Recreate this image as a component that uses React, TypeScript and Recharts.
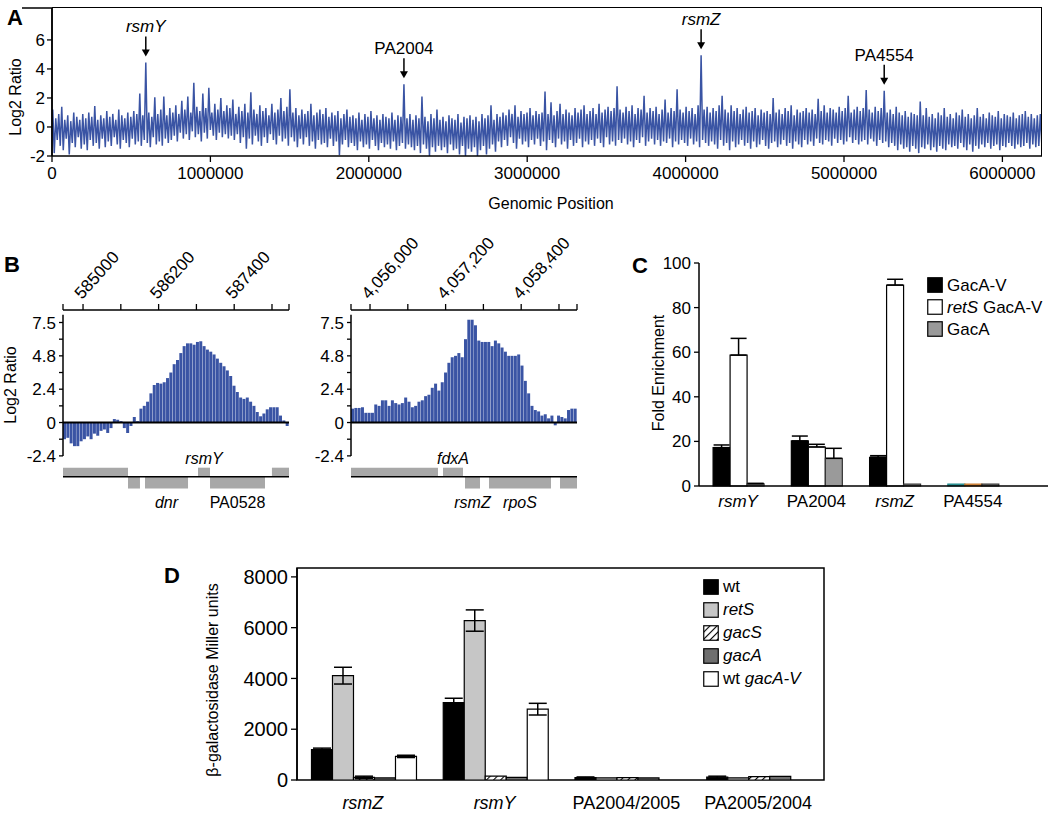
import React from "react";
import {
  Line,
  BarChart,
  Bar,
  ComposedChart,
  XAxis,
  YAxis,
  ReferenceArea,
  ReferenceLine,
  ReferenceDot,
  ErrorBar,
  Legend,
  Cell,
} from "recharts";

const FONT = "'Liberation Sans', Arial, Helvetica, sans-serif";
const BLUE = "#3a54a4";
const AXIS = { stroke: "#000", strokeWidth: 1.5 };
const TICK_LINE = { stroke: "#000", strokeWidth: 1.3 };

// ---------- A: genome-wide log2 ratios, upper / lower value per ~19 kb window
const genomeStep = 18950;
const genomeHigh = [
  1.2, 0.6, 0.9, 1.4, 0.5, 0.8, 0.4, 1.0, 0.7, 0.5,
  0.9, 0.6, 1.0, 0.7, 1.45, 0.5, 0.8, 0.6, 1.1, 0.7,
  0.9, 0.5, 1.2, 0.8, 0.6, 1.0, 0.7, 1.1, 0.9, 2.3,
  0.8, 4.45, 1.0, 0.7, 2.05, 0.9, 1.2, 2.1, 0.8, 1.3,
  1.0, 1.5, 0.9, 1.8, 1.2, 2.1, 1.0, 3.05, 1.4, 1.1,
  2.3, 1.3, 2.7, 1.0, 1.6, 1.2, 2.0, 1.1, 1.5, 1.3,
  1.9, 0.9, 1.4, 1.1, 1.6, 1.0, 2.4, 1.2, 0.9, 1.5,
  1.1, 1.3, 0.8, 1.6, 1.0, 1.2, 2.0, 1.1, 1.4, 2.6,
  1.0, 1.3, 0.8, 1.2, 0.9, 1.1, 1.6, 0.8, 1.0, 1.2,
  0.9, 1.3, 0.7, 1.0, 0.8, 1.1, 0.6, 0.9, 1.2, 0.7,
  0.8, 0.6, 1.0, 0.5, 0.9, 0.7, 1.1, 0.6, 0.8, 0.5,
  0.9, 0.7, 0.6, 1.0, 0.5, 0.8, 0.7, 2.95, 0.6, 0.9,
  0.5, 0.8, 0.6, 2.1, 0.7, 0.4, 0.9, 0.6, 1.2, 0.5,
  0.7, 0.4, 0.8, 0.6, 0.5, 0.9, 0.3, 0.7, 0.6, 0.8,
  0.5, 0.7, 0.4, 0.9, 0.6, 0.8, 1.5, 0.5, 0.9, 0.7,
  1.0, 0.8, 1.2, 0.9, 1.5, 0.7, 1.1, 0.9, 1.0, 1.3,
  0.8, 1.1, 0.9, 1.0, 2.45, 0.9, 1.7, 0.8, 1.1, 1.6,
  0.9, 1.2, 1.0, 0.8, 1.3, 1.0, 1.2, 1.5, 0.9, 1.1,
  1.3, 0.9, 1.6, 1.0, 1.2, 1.4, 1.1, 1.3, 2.8, 1.2,
  1.0, 1.4, 1.1, 1.5, 0.9, 1.3, 1.2, 2.15, 1.0, 1.3,
  1.1, 1.4, 0.9, 1.2, 1.9, 1.0, 1.3, 1.1, 2.6, 1.2,
  1.0, 1.4, 1.1, 1.3, 0.9, 1.5, 4.95, 1.2, 1.4, 1.0,
  1.3, 1.1, 1.5, 2.15, 1.2, 1.0, 1.5, 1.1, 1.3, 0.9,
  1.2, 1.4, 1.0, 1.1, 1.3, 0.8, 1.2, 1.0, 1.1, 0.9,
  2.0, 1.0, 1.2, 0.9, 1.3, 1.1, 1.5, 0.8, 1.2, 1.0,
  1.1, 1.3, 1.0, 1.2, 0.9, 1.95, 1.1, 1.5, 1.0, 1.3,
  1.2, 1.0, 1.4, 1.1, 1.3, 2.15, 1.0, 1.2, 1.4, 1.1,
  1.3, 2.55, 1.2, 1.0, 1.4, 1.1, 1.3, 2.5, 1.0, 1.2,
  0.9, 1.4, 1.0, 0.8, 1.1, 0.7, 1.0, 0.9, 0.8, 1.75,
  0.8, 1.3, 0.7, 0.9, 0.6, 1.0, 0.8, 1.3, 0.7, 0.9,
  0.6, 1.0, 0.8, 1.2, 0.7, 0.9, 0.6, 0.8, 1.3, 0.7,
  0.9, 0.6, 1.0, 0.8, 0.7, 1.1, 0.6, 0.9, 0.8, 0.7,
  1.0, 0.6, 0.8, 0.9, 1.1, 0.7, 0.9, 0.6, 0.8, 0.9,
];
const genomeLow = [
  -1.8, -0.9, -1.3, -1.6, -0.8, -1.9, -1.1, -1.4, -0.7, -1.5,
  -1.2, -1.6, -0.9, -1.3, -1.1, -1.5, -0.8, -1.4, -1.0, -1.3,
  -0.7, -1.2, -1.5, -0.9, -1.1, -1.4, -0.8, -1.2, -1.0, -1.3,
  -0.9, -1.1, -1.4, -0.7, -1.2, -1.0, -1.3, -0.8, -1.1, -0.9,
  -0.6, -1.0, -0.4, -0.8, -0.5, -0.9, -0.3, -0.7, -0.5, -1.0,
  -0.4, -0.8, -0.2, -0.6, -0.9, -0.4, -0.7, -0.5, -0.8, -0.6,
  -0.9, -0.5, -1.1, -0.7, -1.5, -0.8, -1.2, -0.6, -1.0, -1.3,
  -0.7, -1.1, -0.5, -0.9, -1.2, -0.6, -1.0, -0.8, -1.3, -0.7,
  -1.0, -1.4, -0.8, -1.2, -0.7, -1.3, -1.0, -1.5, -0.9, -1.2,
  -1.1, -1.4, -0.8, -1.3, -1.0, -1.95, -1.2, -0.9, -1.4, -1.1,
  -1.3, -1.6, -1.0, -1.4, -1.2, -1.5, -0.9, -1.3, -1.6, -1.1,
  -1.4, -1.2, -1.5, -1.0, -1.6, -1.3, -1.1, -1.5, -1.2, -1.4,
  -1.6, -1.3, -1.8, -1.2, -1.5, -2.0, -1.4, -1.7, -1.3, -1.6,
  -1.4, -1.8, -1.2, -1.6, -1.5, -1.9, -1.3, -2.0, -1.5, -1.7,
  -1.4, -2.0, -1.6, -1.3, -1.9, -1.5, -1.2, -1.7, -1.0, -1.4,
  -0.9, -1.3, -0.7, -1.1, -1.5, -0.8, -1.2, -1.0, -1.4, -0.9,
  -1.2, -0.8, -1.3, -1.0, -1.6, -0.9, -1.1, -1.4, -0.8, -1.2,
  -1.0, -1.5, -0.9, -1.3, -1.1, -0.8, -1.4, -1.0, -1.2, -0.9,
  -1.3, -0.8, -1.1, -1.4, -0.7, -1.2, -1.0, -1.3, -0.9, -1.1,
  -0.8, -1.2, -1.0, -1.4, -0.9, -1.1, -0.7, -1.3, -1.0, -0.8,
  -1.2, -0.9, -1.3, -1.0, -1.1, -0.8, -1.4, -1.0, -1.2, -0.9,
  -1.1, -1.3, -0.8, -1.2, -1.0, -1.4, -0.9, -1.1, -1.3, -1.0,
  -1.2, -1.5, -0.9, -1.3, -1.1, -1.6, -1.0, -1.4, -1.2, -0.9,
  -1.3, -1.1, -1.5, -1.0, -1.4, -1.2, -0.9, -1.3, -1.5, -1.1,
  -1.0, -1.4, -1.2, -0.9, -1.3, -1.1, -1.5, -1.0, -1.2, -1.4,
  -0.9, -1.2, -1.0, -1.3, -0.8, -1.1, -1.2, -0.9, -1.0, -1.3,
  -0.8, -1.1, -0.9, -1.2, -1.0, -0.7, -1.1, -0.9, -1.2, -1.0,
  -0.9, -1.2, -0.8, -1.0, -1.3, -0.9, -1.1, -1.0, -1.4, -1.1,
  -1.3, -1.6, -1.2, -1.5, -1.4, -1.7, -1.3, -1.5, -1.8, -1.4,
  -1.5, -1.2, -1.6, -1.4, -1.7, -1.3, -1.5, -1.6, -1.2, -1.4,
  -1.3, -1.5, -1.1, -1.4, -1.6, -1.2, -1.7, -1.3, -1.5, -1.2,
  -1.4, -1.1, -1.5, -1.3, -1.2, -1.6, -1.3, -1.4, -1.1, -1.3,
  -1.5, -1.2, -1.4, -1.3, -1.1, -1.5, -1.2, -1.4, -1.3, -1.2,
];
const genomeMax = 6250000;
const genomeRatioMax = 8.2;
const genomeTicks = [0, 1000000, 2000000, 3000000, 4000000, 5000000, 6000000];
const genomePeaks = [
  { name: "rsmY", pos: 592150, ratio: 4.45 },
  { name: "PA2004", pos: 2221850, ratio: 2.95 },
  { name: "rsmZ", pos: 4097900, ratio: 4.95 },
  { name: "PA4554", pos: 5253850, ratio: 2.5 },
];

const genomeData = genomeHigh.flatMap((hi, i) => [
  { pos: i * genomeStep + 4700, ratio: hi },
  { pos: i * genomeStep + 14200, ratio: genomeLow[i] },
]);

// ---------- B: probe-level log2 ratios around rsmY and rsmZ
const rsmYProbes = [
  -1.2, -1.1, -1.5, -1.7, -1.7, -1.35, -1.2, -1.0, -1.2, -0.8,
  -0.95, -0.6, -0.5, -0.75, -0.4, 0.25, 0.2, 0.1, -0.4, -0.75,
  -0.25, 0.4, 0.1, 1.0, 1.2, 1.5, 2.1, 2.7, 2.85, 2.8,
  2.9, 3.2, 3.6, 4.2, 4.5, 5.0, 5.5, 5.7, 5.7, 5.6,
  5.8, 5.85, 5.5, 5.25, 5.1, 4.9, 4.6, 4.3, 4.05, 3.75,
  3.35, 2.65, 2.2, 1.8, 1.7, 1.8, 1.5, 1.2, 0.75, 0.45,
  0.65, 0.95, 1.1, 1.1, 1.1, 0.5, 0.15, -0.25,
];
const rsmZProbes = [
  1.0, 1.05, 1.05, 1.1, 0.7, 0.7, 0.7, 1.3, 1.2, 1.6,
  1.6, 1.2, 1.6, 1.4, 1.3, 1.4, 1.8, 1.5, 1.1, 1.2,
  1.5, 1.6, 1.9, 2.0, 2.5, 2.8, 2.3, 2.9, 3.6, 4.3,
  4.7, 4.8, 5.0, 4.7, 6.0, 7.4, 7.4, 7.0, 5.9, 5.8,
  5.8, 5.8, 5.5, 5.9, 5.7, 5.4, 5.1, 4.8, 4.8, 4.8,
  4.9, 4.1, 3.0, 2.1, 1.2, 0.9, 0.8, 0.5, 0.6, 0.3,
  0.5, -0.2, 0.5, 0.4, 0.3, 0.9, 1.0, 1.0,
];
const rsmYSpan = [584682, 588270];
const rsmZSpan = [4055698, 4059286];
const rsmYTicks = [584682, 585000, 585600, 586200, 586800, 587400, 588000, 588270];
const rsmYTickLabels = ["", "585000", "", "586200", "", "587400", "", ""];
const rsmZTicks = [4055698, 4056000, 4056600, 4057200, 4057800, 4058400, 4059000, 4059286];
const rsmZTickLabels = ["", "4,056,000", "", "4,057,200", "", "4,058,400", "", ""];
const ratioTicks = [-2.4, -1.2, 0, 1.2, 2.4, 3.6, 4.8, 6.0, 7.2];
const ratioTickLabels = ["-2.4", "", "0", "", "2.4", "", "4.8", "", "7.5"];

const rsmYGenes = [
  { name: "", start: 584682, end: 585714, strand: 1 },
  { name: "rsmY", start: 586825, end: 587016, strand: 1 },
  { name: "", start: 587999, end: 588270, strand: 1 },
  { name: "", start: 585714, end: 585904, strand: -1 },
  { name: "dnr", start: 585984, end: 586667, strand: -1 },
  { name: "PA0528", start: 587016, end: 587889, strand: -1 },
];
const rsmZGenes = [
  { name: "", start: 4055698, end: 4057079, strand: 1 },
  { name: "fdxA", start: 4057159, end: 4057476, strand: 1 },
  { name: "rsmZ", start: 4057508, end: 4057746, strand: -1 },
  { name: "rpoS", start: 4057889, end: 4058873, strand: -1 },
  { name: "", start: 4059016, end: 4059286, strand: -1 },
];
const TRACK_Y = -3.9;

// ---------- C: ChIP-qPCR fold enrichment
const enrichTargets = ["rsmY", "PA2004", "rsmZ", "PA4554"];
const gacaV = [17.2, 20.2, 12.9, 0.8];
const gacaVErr = [1.2, 2.2, 0.7, null];
const retsGacaV = [58.7, 17.5, 90.1, 0.8];
const retsGacaVErr = [7.5, 1.2, 2.6, null];
const gacaPlain = [1.0, 12.4, 0.8, 0.8];
const gacaPlainErr = [0.2, 4.5, null, null];

const enrichRows = enrichTargets.map((target, i) => ({
  target,
  gacaV: gacaV[i],
  gacaVErr: gacaVErr[i] == null ? null : [0, gacaVErr[i]],
  retsGacaV: retsGacaV[i],
  retsGacaVErr: retsGacaVErr[i] == null ? null : [0, retsGacaVErr[i]],
  gacaPlain: gacaPlain[i],
  gacaPlainErr: gacaPlainErr[i] == null ? null : [0, gacaPlainErr[i]],
}));

// ---------- D: lacZ reporter activity
const reporters = ["rsmZ", "rsmY", "PA2004/2005", "PA2005/2004"];
const wtMiller = [1200, 3050, 90, 110];
const wtMillerErr = [55, 170, 30, 40];
const retsMiller = [4110, 6280, 80, 80];
const retsMillerErr = [330, 420, null, null];
const gacsMiller = [100, 150, 90, 130];
const gacsMillerErr = [50, null, null, null];
const gacaMiller = [80, 100, 80, 140];
const gacaMillerErr = [null, null, null, null];
const gacaVMiller = [930, 2790, 0, 0];
const gacaVMillerErr = [45, 230, null, null];

const millerRows = reporters.map((reporter, i) => ({
  reporter,
  slot: i + 0.5,
  wt: wtMiller[i],
  wtErr: wtMillerErr[i],
  rets: retsMiller[i],
  retsErr: retsMillerErr[i],
  gacs: gacsMiller[i],
  gacsErr: gacsMillerErr[i],
  gaca: gacaMiller[i],
  gacaErr: gacaMillerErr[i],
  gacaV: gacaVMiller[i],
  gacaVErr: gacaVMillerErr[i],
}));

const enrichOrder = ["gacaV", "retsGacaV", "gacaPlain"];
const millerOrder = ["wt", "rets", "gacs", "gaca", "gacaV"];

const isItalic = (name: string) => name !== "" && !name.startsWith("PA");

function PeakLabel(props: any) {
  const { viewBox, text } = props;
  if (!viewBox) return null;
  const x = viewBox.x + (viewBox.width || 0) / 2;
  const y = viewBox.y + (viewBox.height || 0) / 2;
  const tip = y - 6;
  const top = tip - 20;
  return (
    <g>
      <line x1={x} y1={top} x2={x} y2={tip - 5} stroke="#000" strokeWidth={1.5} />
      <path d={`M${x - 4},${tip - 7} L${x + 4},${tip - 7} L${x},${tip} Z`} fill="#000" />
      <text
        x={x}
        y={top - 4}
        textAnchor="middle"
        fontSize={17}
        fontFamily={FONT}
        fontStyle={isItalic(text) ? "italic" : "normal"}
        fill="#000"
      >
        {text}
      </text>
    </g>
  );
}

// draws the top and right sides of the genome plot frame from the chart's own viewBox
function PlotFrame(props: any) {
  const { viewBox } = props;
  if (!viewBox) return null;
  const { x, y, width, height } = viewBox;
  return (
    <path
      d={`M${x},${y} L${x + width},${y} L${x + width},${y + height}`}
      fill="none"
      stroke="#000"
      strokeWidth={1.5}
    />
  );
}

function BpTick(props: any) {
  const { x, y, payload, ticks, labels } = props;
  const label = labels[ticks.indexOf(payload.value)];
  if (!label) return null;
  return (
    <g transform={`translate(${x - 1},${y - 2})`}>
      <text x={0} y={0} transform="rotate(-48)" fontSize={17} fontFamily={FONT} fill="#000">
        {label}
      </text>
    </g>
  );
}

function NameTick(props: any) {
  const { x, y, payload, fontSize } = props;
  const name = String(payload.value);
  return (
    <text
      x={x}
      y={y}
      dy="0.75em"
      textAnchor="middle"
      fontSize={fontSize}
      fontFamily={FONT}
      fontStyle={isItalic(name) ? "italic" : "normal"}
      fill="#000"
    >
      {name}
    </text>
  );
}

function BoxLegend({ payload, labels, rowHeight }: any) {
  const items = (payload || []).filter((entry: any) => entry.type !== "none");
  return (
    <div style={{ fontFamily: FONT, fontSize: 17, color: "#000", lineHeight: 1 }}>
      {items.map((entry: any) => (
        <div
          key={entry.dataKey}
          style={{ display: "flex", alignItems: "center", height: rowHeight, whiteSpace: "nowrap" }}
        >
          <svg width={16} height={16} style={{ marginRight: 4, flex: "none" }}>
            <rect
              x={0.75}
              y={0.75}
              width={14.5}
              height={14.5}
              fill={entry.payload?.fill ?? entry.color}
              stroke="#000"
              strokeWidth={1.2}
            />
          </svg>
          <span>{labels[entry.dataKey]}</span>
        </div>
      ))}
    </div>
  );
}

function ProbePanel({ left, values, span, ticks, tickLabels, genes }: any) {
  const width = (span[1] - span[0]) / values.length;
  const data = values.map((v: number, i: number) => ({
    probe: i,
    pos: span[0] + (i + 0.5) * width,
    ratio: v,
  }));
  return (
    <div style={{ position: "absolute", left, top: 230 }}>
      <ComposedChart
        width={300}
        height={285}
        data={data}
        margin={{ top: 0, right: 11, bottom: 23, left: 19 }}
        barCategoryGap={0}
        barGap={0}
      >
        <XAxis xAxisId="probe" dataKey="probe" hide />
        <XAxis
          xAxisId="bp"
          dataKey="pos"
          type="number"
          orientation="top"
          domain={span}
          ticks={ticks}
          allowDataOverflow
          interval={0}
          height={80}
          tickSize={6}
          axisLine={AXIS}
          tickLine={TICK_LINE}
          tick={<BpTick ticks={ticks} labels={tickLabels} />}
        />
        <YAxis
          type="number"
          domain={[-5, 8.1]}
          allowDataOverflow
          ticks={ratioTicks}
          interval={0}
          width={44}
          axisLine={false}
          tickSize={4}
          tickMargin={3}
          tickLine={TICK_LINE}
          tick={{ fill: "#000", fontSize: 17, fontFamily: FONT }}
          tickFormatter={(v: number) => ratioTickLabels[ratioTicks.indexOf(v)] ?? ""}
        />
        <Bar xAxisId="probe" dataKey="ratio" fill={BLUE} isAnimationActive={false} />
        <Line
          xAxisId="bp"
          dataKey="ratio"
          stroke="none"
          dot={false}
          activeDot={false}
          legendType="none"
          isAnimationActive={false}
        />
        <ReferenceLine
          xAxisId="bp"
          segment={[
            { x: span[0], y: -2.4 },
            { x: span[0], y: 7.75 },
          ]}
          ifOverflow="visible"
          stroke="#000"
          strokeWidth={1.5}
        />
        <ReferenceLine xAxisId="bp" y={0} stroke="#000" strokeWidth={2} />
        {genes.map((g: any, i: number) => (
          <ReferenceArea
            key={i}
            xAxisId="bp"
            x1={g.start}
            x2={g.end}
            y1={g.strand > 0 ? TRACK_Y : TRACK_Y - 0.85}
            y2={g.strand > 0 ? TRACK_Y + 0.65 : TRACK_Y}
            ifOverflow="visible"
            fill="#a8a8a8"
            fillOpacity={1}
            stroke="none"
            label={
              g.name
                ? {
                    value: g.name,
                    position: g.strand > 0 ? "top" : "bottom",
                    offset: g.strand > 0 ? 4 : 8,
                    fontSize: 16,
                    fontFamily: FONT,
                    fontStyle: isItalic(g.name) ? "italic" : "normal",
                    fill: "#000",
                  }
                : undefined
            }
          />
        ))}
        <ReferenceLine xAxisId="bp" y={TRACK_Y} stroke="#000" strokeWidth={1.5} />
      </ComposedChart>
    </div>
  );
}

const enrichLabels: Record<string, React.ReactNode> = {
  gacaV: "GacA-V",
  retsGacaV: (
    <>
      <i>retS</i> GacA-V
    </>
  ),
  gacaPlain: "GacA",
};

const millerLabels: Record<string, React.ReactNode> = {
  wt: "wt",
  rets: <i>retS</i>,
  gacs: <i>gacS</i>,
  gaca: <i>gacA</i>,
  gacaV: (
    <>
      wt <i>gacA-V</i>
    </>
  ),
};

export default function App() {
  return (
    <div
      style={{
        position: "absolute",
        left: 0,
        top: 0,
        width: 1050,
        height: 817,
        background: "#fff",
        overflow: "hidden",
        fontFamily: FONT,
      }}
    >
      {/* A */}
      <div style={{ position: "absolute", left: 0, top: 0 }}>
        <ComposedChart
          width={1050}
          height={215}
          data={genomeData}
          margin={{ top: 8, right: 8, bottom: 29, left: 22 }}
        >
          <XAxis
            dataKey="pos"
            type="number"
            domain={[0, genomeMax]}
            ticks={genomeTicks}
            allowDataOverflow
            interval={0}
            height={30}
            tickSize={6}
            tickMargin={5}
            axisLine={AXIS}
            tickLine={TICK_LINE}
            tick={{ fill: "#000", fontSize: 17, fontFamily: FONT }}
          />
          <YAxis
            type="number"
            domain={[-2, genomeRatioMax]}
            ticks={[-2, 0, 2, 4, 6]}
            allowDataOverflow
            interval={0}
            width={30}
            tickSize={5}
            tickMargin={2}
            axisLine={AXIS}
            tickLine={TICK_LINE}
            tick={{ fill: "#000", fontSize: 17, fontFamily: FONT }}
            label={<PlotFrame />}
          />
          <Line
            dataKey="ratio"
            stroke={BLUE}
            strokeWidth={1.5}
            dot={false}
            isAnimationActive={false}
          />
          {genomePeaks.map((p) => (
            <ReferenceDot
              key={p.name}
              x={p.pos}
              y={p.ratio}
              r={0}
              ifOverflow="visible"
              fill="none"
              stroke="none"
              label={<PeakLabel text={p.name} />}
            />
          ))}
        </ComposedChart>
        <div
          style={{
            position: "absolute",
            left: 52,
            top: 7,
            width: 989,
            height: 148,
            borderTop: "1.5px solid #000",
            borderRight: "1.5px solid #000",
            pointerEvents: "none",
          }}
        />
      </div>

      {/* B */}
      <ProbePanel
        left={0}
        values={rsmYProbes}
        span={rsmYSpan}
        ticks={rsmYTicks}
        tickLabels={rsmYTickLabels}
        genes={rsmYGenes}
      />
      <ProbePanel
        left={288}
        values={rsmZProbes}
        span={rsmZSpan}
        ticks={rsmZTicks}
        tickLabels={rsmZTickLabels}
        genes={rsmZGenes}
      />

      {/* C */}
      <div style={{ position: "absolute", left: 630, top: 240 }}>
        <BarChart
          width={420}
          height={282}
          data={enrichRows}
          margin={{ top: 23, right: 2, bottom: 6, left: 29 }}
          barCategoryGap="18%"
          barGap={0}
        >
          <XAxis
            dataKey="target"
            padding={{ left: 0, right: 36 }}
            height={30}
            interval={0}
            tickLine={false}
            tickSize={0}
            tickMargin={8}
            axisLine={AXIS}
            tick={<NameTick fontSize={17} />}
          />
          <YAxis
            domain={[0, 100]}
            ticks={[0, 20, 40, 60, 80, 100]}
            interval={0}
            width={40}
            tickSize={5}
            tickMargin={3}
            axisLine={AXIS}
            tickLine={TICK_LINE}
            tick={{ fill: "#000", fontSize: 17, fontFamily: FONT }}
          />
          <Legend
            layout="vertical"
            align="center"
            verticalAlign="middle"
            itemSorter={(item: any) => enrichOrder.indexOf(item.dataKey)}
            wrapperStyle={{ left: 297, top: 34, width: 130 }}
            content={<BoxLegend labels={enrichLabels} rowHeight={22} />}
          />
          <Bar dataKey="gacaV" name="GacA-V" fill="#000" stroke="#000" strokeWidth={1.2} isAnimationActive={false}>
            {enrichRows.map((r) => (
              <Cell
                key={r.target}
                fill={r.target === "PA4554" ? "#1f8a8c" : "#000"}
                stroke={r.target === "PA4554" ? "#1f8a8c" : "#000"}
              />
            ))}
            <ErrorBar dataKey="gacaVErr" width={8} stroke="#000" strokeWidth={1.5} />
          </Bar>
          <Bar dataKey="retsGacaV" name="retS GacA-V" fill="#fff" stroke="#000" strokeWidth={1.2} isAnimationActive={false}>
            {enrichRows.map((r) => (
              <Cell
                key={r.target}
                fill={r.target === "PA4554" ? "#c97a2e" : "#fff"}
                stroke={r.target === "PA4554" ? "#c97a2e" : "#000"}
              />
            ))}
            <ErrorBar dataKey="retsGacaVErr" width={8} stroke="#000" strokeWidth={1.5} />
          </Bar>
          <Bar dataKey="gacaPlain" name="GacA" fill="#9a9a9a" stroke="#333" strokeWidth={1.2} isAnimationActive={false}>
            <ErrorBar dataKey="gacaPlainErr" width={8} stroke="#000" strokeWidth={1.5} />
          </Bar>
        </BarChart>
      </div>

      {/* D */}
      <div style={{ position: "absolute", left: 160, top: 540 }}>
        <ComposedChart
          width={680}
          height={277}
          data={millerRows}
          margin={{ top: 28, right: 16, bottom: 0, left: 82 }}
          barCategoryGap="11%"
          barGap={0}
        >
          <XAxis
            xAxisId="div"
            dataKey="slot"
            type="number"
            domain={[0, 4]}
            ticks={[0, 1, 2, 3, 4]}
            allowDataOverflow
            interval={0}
            height={0}
            tickSize={9}
            tickFormatter={() => ""}
            axisLine={AXIS}
            tickLine={{ stroke: "#000", strokeWidth: 1.5 }}
          />
          <XAxis
            xAxisId="cat"
            dataKey="reporter"
            height={37}
            interval={0}
            axisLine={false}
            tickLine={false}
            tickSize={0}
            tickMargin={15}
            tick={<NameTick fontSize={18} />}
          />
          <YAxis
            domain={[0, 8350]}
            ticks={[0, 2000, 4000, 6000, 8000]}
            allowDataOverflow
            interval={0}
            width={55}
            tickSize={6}
            tickMargin={3}
            axisLine={AXIS}
            tickLine={TICK_LINE}
            tick={{ fill: "#000", fontSize: 20, fontFamily: FONT }}
          />
          <ReferenceArea
            xAxisId="div"
            x1={0}
            x2={4}
            y1={0}
            y2={8350}
            ifOverflow="visible"
            fill="none"
            fillOpacity={0}
            stroke="#000"
            strokeWidth={1.5}
          />
          <Legend
            layout="vertical"
            align="center"
            verticalAlign="middle"
            itemSorter={(item: any) => millerOrder.indexOf(item.dataKey)}
            wrapperStyle={{ left: 543, top: 35, width: 120 }}
            content={<BoxLegend labels={millerLabels} rowHeight={23} />}
          />
          <Line
            xAxisId="div"
            dataKey="wt"
            stroke="none"
            dot={false}
            activeDot={false}
            legendType="none"
            isAnimationActive={false}
          />
          <Bar xAxisId="cat" dataKey="wt" name="wt" fill="#000" stroke="#000" strokeWidth={1.2} isAnimationActive={false}>
            <ErrorBar dataKey="wtErr" width={9} stroke="#000" strokeWidth={1.5} />
          </Bar>
          <Bar xAxisId="cat" dataKey="rets" name="retS" fill="#c6c6c6" stroke="#000" strokeWidth={1.2} isAnimationActive={false}>
            <ErrorBar dataKey="retsErr" width={9} stroke="#000" strokeWidth={1.5} />
          </Bar>
          <Bar xAxisId="cat" dataKey="gacs" name="gacS" fill="url(#gacsHatch)" stroke="#000" strokeWidth={1.2} isAnimationActive={false}>
            <ErrorBar dataKey="gacsErr" width={9} stroke="#000" strokeWidth={1.5} />
          </Bar>
          <Bar xAxisId="cat" dataKey="gaca" name="gacA" fill="#6f6f6f" stroke="#000" strokeWidth={1.2} isAnimationActive={false}>
            <ErrorBar dataKey="gacaErr" width={9} stroke="#000" strokeWidth={1.5} />
          </Bar>
          <Bar xAxisId="cat" dataKey="gacaV" name="wt gacA-V" fill="#fff" stroke="#000" strokeWidth={1.2} isAnimationActive={false}>
            <ErrorBar dataKey="gacaVErr" width={9} stroke="#000" strokeWidth={1.5} />
          </Bar>
        </ComposedChart>
      </div>

      {/* panel letters and axis titles */}
      <svg
        width={1050}
        height={817}
        style={{ position: "absolute", left: 0, top: 0, pointerEvents: "none" }}
        fontFamily={FONT}
        fill="#000"
      >
        <defs>
          <pattern
            id="gacsHatch"
            width={5}
            height={5}
            patternUnits="userSpaceOnUse"
            patternTransform="rotate(45)"
          >
            <rect width={5} height={5} fill="#fff" />
            <line x1={0} y1={0} x2={0} y2={5} stroke="#000" strokeWidth={2.2} />
          </pattern>
        </defs>
        <text x={7} y={25} fontSize={22} fontWeight="bold">A</text>
        <text x={21} y={97} fontSize={16} textAnchor="middle" transform="rotate(-90 21 97)">Log2 Ratio</text>
        <text x={551} y={209} fontSize={16} textAnchor="middle">Genomic Position</text>

        <text x={4} y={272} fontSize={22} fontWeight="bold">B</text>
        <text x={16} y={385} fontSize={16} textAnchor="middle" transform="rotate(-90 16 385)">Log2 Ratio</text>

        <text x={632} y={273} fontSize={22} fontWeight="bold">C</text>
        <text x={664} y={373} fontSize={16} textAnchor="middle" transform="rotate(-90 664 373)">Fold Enrichment</text>

        <text x={164} y={583} fontSize={22} fontWeight="bold">D</text>
        <text x={218} y={680} fontSize={16} textAnchor="middle" transform="rotate(-90 218 680)">β-galactosidase Miller units</text>
      </svg>
    </div>
  );
}
